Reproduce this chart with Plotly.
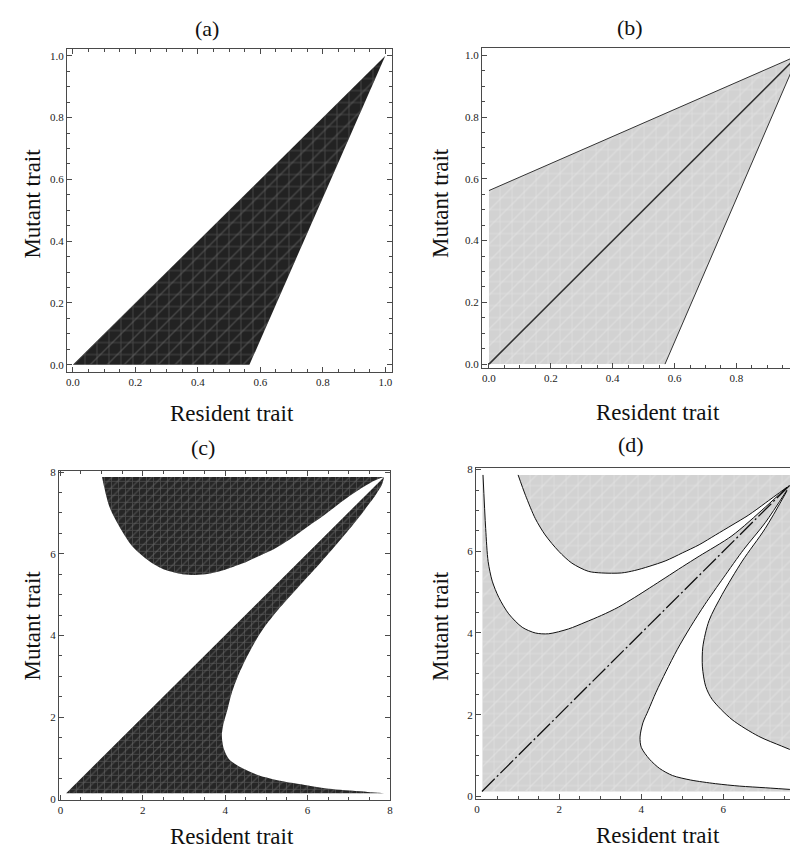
import plotly.graph_objects as go

# ---------------- data ----------------
# Panel (a): invasion region (dark)
a_x = [0.0, 0.565, 1.0]
a_y = [0.0, 0.0, 1.0]

# Panel (b): grey region, its two boundary lines and the diagonal
b_region_x = [0.0, 0.569, 1.0, 0.0]
b_region_y = [0.0, 0.0, 1.0, 0.562]
b_upper_x = [0.0, 1.0]
b_upper_y = [0.562, 1.0]
b_lower_x = [0.569, 1.0]
b_lower_y = [0.0, 1.0]
b_diag = [0.0, 1.0]

# Panel (c)
c_top_x = [1.01, 7.86]
c_top_y = [7.88, 7.88]
c_upper_x = [1.01, 1.19, 1.43, 1.75, 2.16, 2.56, 2.96, 3.28, 3.60, 4.00, 4.41, 4.81,
             5.21, 5.61, 6.01, 6.41, 6.82, 7.22, 7.62, 7.86]
c_upper_y = [7.88, 7.15, 6.67, 6.18, 5.82, 5.60, 5.50, 5.48, 5.51, 5.61, 5.76, 5.94,
             6.13, 6.38, 6.67, 6.95, 7.27, 7.55, 7.79, 7.88]
c_diag_x = [0.14, 7.86]
c_diag_y = [0.14, 7.88]
c_lower_x = [7.86, 7.46, 6.60, 6.01, 5.30, 4.81, 4.40, 4.09, 3.96, 3.92, 3.95, 4.06,
             4.16, 4.31, 4.49, 4.70, 4.95, 5.26, 5.62, 5.97, 6.35, 6.68, 7.04, 7.33,
             7.65, 7.81, 7.86]
c_lower_y = [0.14, 0.17, 0.24, 0.33, 0.45, 0.58, 0.76, 0.98, 1.25, 1.55, 1.79, 2.20,
             2.59, 3.00, 3.40, 3.80, 4.20, 4.60, 5.01, 5.40, 5.82, 6.20, 6.63, 7.00,
             7.43, 7.70, 7.88]

# Panel (d)
d_box_x = [0.13, 7.91]
d_box_y = [0.12, 7.87]
d_A_x = [0.145, 0.21, 0.27, 0.37, 0.53, 0.77, 1.10, 1.42, 1.74, 2.23, 2.63, 3.03,
         3.44, 3.84, 4.20, 4.60, 5.00, 5.41, 6.21, 7.02, 7.55]
d_A_y = [7.87, 6.56, 5.75, 5.27, 4.87, 4.47, 4.14, 4.00, 3.98, 4.10, 4.26, 4.43,
         4.63, 4.87, 5.10, 5.36, 5.62, 5.88, 6.38, 7.08, 7.57]
d_B_x = [1.00, 1.18, 1.42, 1.66, 1.99, 2.31, 2.71, 3.03, 3.52, 3.84, 4.19, 4.60,
         5.00, 5.41, 5.81, 6.21, 6.62, 7.02, 7.55]
d_B_y = [7.87, 7.37, 6.80, 6.40, 6.00, 5.71, 5.51, 5.47, 5.47, 5.53, 5.63, 5.77,
         5.96, 6.16, 6.40, 6.64, 6.89, 7.18, 7.57]
d_C_x = [7.55, 7.02, 6.50, 6.00, 5.55, 5.20, 4.88, 4.60, 4.36, 4.17, 4.04, 3.97,
         4.00, 4.20, 4.45, 4.76, 5.20, 5.81, 6.40, 7.02, 7.91]
d_C_y = [7.50, 6.70, 6.05, 5.35, 4.70, 4.15, 3.60, 3.05, 2.55, 2.10, 1.80, 1.45,
         1.20, 0.91, 0.68, 0.51, 0.40, 0.31, 0.25, 0.21, 0.15]
d_D_x = [7.55, 7.02, 6.46, 5.97, 5.65, 5.50, 5.49, 5.57, 5.73, 6.21, 6.86, 7.42, 7.91]
d_D_y = [7.48, 6.56, 5.76, 4.94, 4.30, 3.66, 3.17, 2.69, 2.37, 1.88, 1.47, 1.23, 1.03]
d_diag = [0.12, 7.85]

# ---------------- styling ----------------
W, H = 798, 848
FONT = "Liberation Serif"
DARK_BG, DARK_FG = "#222222", "#6a6a6a"
DARK_BG_C, DARK_FG_C = "#262626", "#6e6e6e"
GREY_BG, GREY_FG = "#d2d2d2", "#e6e6e6"
AX = "#4a4a4a"

fig = go.Figure()


def patterns(dense):
    return (("+", 0.24), ("/", 0.18)) if dense else (("+", 0.16), ("/", 0.12))


def region(xs, ys, ax, bg, fg, size):
    xa, ya = ax
    for k, (shape, sol) in enumerate(patterns(False)):
        fig.add_trace(go.Scatter(x=xs, y=ys, xaxis=xa, yaxis=ya, mode="lines",
                                 line=dict(width=0), fill="toself",
                                 fillcolor=bg if k == 0 else "rgba(0,0,0,0)",
                                 fillpattern=dict(shape=shape,
                                                  bgcolor=bg if k == 0 else "rgba(0,0,0,0)",
                                                  fgcolor=fg, size=size, solidity=sol),
                                 hoverinfo="skip", showlegend=False))


def between(x1, y1, x2, y2, ax, bg, fg=None, size=10, s1="linear", s2="spline"):
    """fill between path 1 and path 2: path 2 followed by path 1 reversed"""
    xa, ya = ax
    layers = patterns(True) if fg else ((None, 0),)
    for k, (shape, sol) in enumerate(layers):
        fig.add_trace(go.Scatter(x=x1, y=y1, xaxis=xa, yaxis=ya, mode="lines",
                                 line=dict(width=0, shape=s1, smoothing=0.8),
                                 hoverinfo="skip", showlegend=False))
        kw = {}
        if shape:
            kw["fillpattern"] = dict(shape=shape,
                                     bgcolor=bg if k == 0 else "rgba(0,0,0,0)",
                                     fgcolor=fg, size=size, solidity=sol)
        fig.add_trace(go.Scatter(x=x2, y=y2, xaxis=xa, yaxis=ya, mode="lines",
                                 line=dict(width=0, shape=s2, smoothing=0.8),
                                 fill="tonexty",
                                 fillcolor=bg if k == 0 else "rgba(0,0,0,0)",
                                 hoverinfo="skip", showlegend=False, **kw))


def line(xs, ys, ax, color="#222222", width=1.0, dash="solid", shape="linear"):
    xa, ya = ax
    fig.add_trace(go.Scatter(x=xs, y=ys, xaxis=xa, yaxis=ya, mode="lines",
                             line=dict(color=color, width=width, dash=dash,
                                       shape=shape, smoothing=0.8),
                             hoverinfo="skip", showlegend=False))


A = ("x", "y")
B = ("x2", "y2")
C = ("x3", "y3")
D = ("x4", "y4")

# (a)
region(a_x + [a_x[0]], a_y + [a_y[0]], A, DARK_BG, DARK_FG, 12)

# (b)
region(b_region_x + [b_region_x[0]], b_region_y + [b_region_y[0]], B, GREY_BG, GREY_FG, 12)
line(b_upper_x, b_upper_y, B, "#333333", 1.0)
line(b_lower_x, b_lower_y, B, "#333333", 1.0)
line(b_diag, b_diag, B, "#333333", 1.6)

# (c)
between(c_top_x, c_top_y, c_upper_x, c_upper_y, C, DARK_BG_C, DARK_FG_C, 7)
between(c_diag_x, c_diag_y, c_lower_x, c_lower_y, C, DARK_BG_C, DARK_FG_C, 7)

# (d)
bx = [d_box_x[0], d_box_x[1], d_box_x[1], d_box_x[0], d_box_x[0]]
by = [d_box_y[0], d_box_y[0], d_box_y[1], d_box_y[1], d_box_y[0]]
region(bx, by, D, GREY_BG, GREY_FG, 12)
between(d_A_x, d_A_y, d_B_x, d_B_y, D, "white", s1="spline")
between(d_C_x, d_C_y, d_D_x, d_D_y, D, "white", s1="spline")
for cx, cy in ((d_A_x, d_A_y), (d_B_x, d_B_y), (d_C_x, d_C_y), (d_D_x, d_D_y)):
    line(cx, cy, D, "#111111", 1.0, shape="spline")
line(d_diag, d_diag, D, "#111111", 1.3, "18px,3px,2px,3px")


def dom_x(l, r):
    return [l / W, min(r / W, 1.0)]


def dom_y(t, b):
    return [1 - b / H, 1 - t / H]


def axis(domain, rng, anchor, dtick, mdtick, fmt, mirror):
    return dict(domain=domain, range=rng, anchor=anchor, showgrid=False, zeroline=False,
                showline=True, linecolor=AX, linewidth=1, mirror=mirror,
                ticks="inside", ticklen=5, tickwidth=1, tickcolor=AX,
                dtick=dtick, tick0=0, tickformat=fmt,
                minor=dict(ticks="inside", ticklen=3, tickwidth=1, tickcolor=AX,
                           dtick=mdtick, tick0=0),
                tickfont=dict(family=FONT, size=11, color="#222222"))


xaxis2 = axis(dom_x(475, 798), [-0.0225, 1.0151], "y2", 0.2, 0.05, ".1f", True)
xaxis2["ticklabeloverflow"] = "allow"

layout = dict(
    width=W, height=H, margin=dict(l=0, r=0, t=0, b=0),
    paper_bgcolor="white", plot_bgcolor="white", showlegend=False,
    xaxis=axis(dom_x(57.3, 384), [-0.019, 1.020], "y", 0.2, 0.05, ".1f", "ticks"),
    yaxis=axis(dom_y(36, 363.3), [-0.0234, 1.0234], "x", 0.2, 0.05, ".1f", "ticks"),
    xaxis2=xaxis2,
    yaxis2=axis(dom_y(35, 359.5), [-0.0135, 1.025], "x2", 0.2, 0.05, ".1f", True),
    xaxis3=axis(dom_x(49.3, 382.7), [-0.034, 8.01], "y3", 2, 0.5, "d", "ticks"),
    yaxis3=axis(dom_y(463.3, 796), [-0.017, 8.03], "x3", 2, 0.5, "d", "ticks"),
    xaxis4=axis(dom_x(469, 798), [-0.024, 7.94], "y4", 2, 0.5, "d", True),
    yaxis4=axis(dom_y(460, 795), [-0.056, 8.05], "x4", 2, 0.5, "d", True),
)
fig.update_layout(**layout)


def text(s, px, py, size, angle=0):
    fig.add_annotation(text=s, x=px / W, y=1 - py / H, xref="paper", yref="paper",
                       xanchor="center", yanchor="middle", showarrow=False,
                       textangle=angle, font=dict(family=FONT, size=size, color="#111111"))


for lab, px, py in (("(a)", 198, 16), ("(b)", 624, 15), ("(c)", 194, 440), ("(d)", 625, 437)):
    text(lab, px, py, 22)
for px, py in ((223, 405), (652, 404), (223, 833), (652, 832)):
    text("Resident trait", px, py, 23)
for px, py in ((23, 193), (433, 192), (23, 620), (433, 620)):
    text("Mutant trait", px, py, 23, -90)

fig.write_html("out.html")
